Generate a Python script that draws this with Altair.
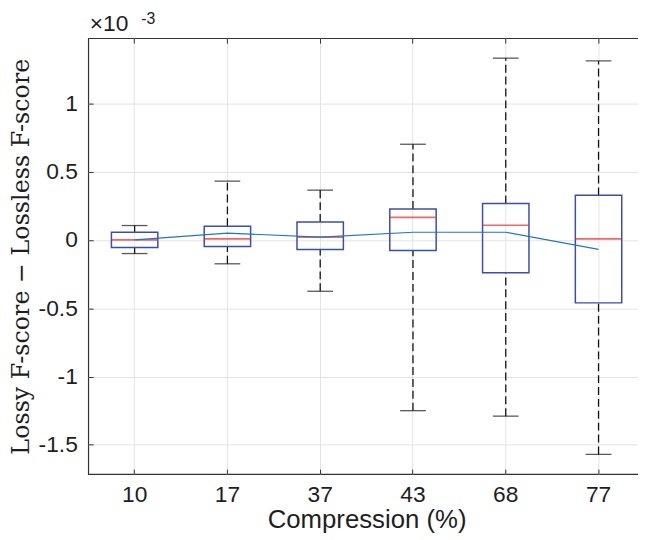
import altair as alt
import pandas as pd

# Values in units of 1e-3
cats = ["10", "17", "37", "43", "68", "77"]
w_lo = [-0.10, -0.175, -0.376, -1.25, -1.29, -1.57]
q1 = [-0.055, -0.048, -0.07, -0.077, -0.24, -0.461]
med = [0.0, 0.007, 0.02, 0.165, 0.107, 0.007]
q3 = [0.056, 0.10, 0.131, 0.226, 0.267, 0.326]
w_hi = [0.105, 0.43, 0.364, 0.70, 1.33, 1.31]
mean = [0.0, 0.05, 0.02, 0.056, 0.056, -0.07]
y_ticks = [-1.5, -1.0, -0.5, 0.0, 0.5, 1.0]

df = pd.DataFrame({"cat": cats, "lo": w_lo, "q1": q1, "med": med,
                   "q3": q3, "hi": w_hi, "mean": mean})

FRAME = "#333333"
TXT = "#1e1e1e"
GRID = "#e3e3e3"

xscale = alt.Scale(type="band", paddingInner=0.5, paddingOuter=0.25)
yscale = alt.Scale(domain=[-1.714, 1.476], nice=False, zero=False)

label_expr = "datum.value < 0 ? '-' + format(-datum.value, '') : format(datum.value, '')"

x_axis = alt.Axis(title="Compression (%)", orient="bottom", offset=-5, tickSize=5,
                  tickColor=FRAME, tickWidth=1, domain=False, grid=True,
                  gridColor=GRID, gridWidth=1, bandPosition=0.5,
                  labelPadding=10, labelAngle=0, titlePadding=0,
                  labelFont="Liberation Sans", labelFontSize=23, labelColor=TXT,
                  titleFont="Liberation Sans", titleFontSize=26,
                  titleFontWeight="normal", titleColor=TXT)
y_axis = alt.Axis(title="Lossy F-score \u2212 Lossless F-score", orient="left",
                  offset=-5, tickSize=5, tickColor=FRAME, tickWidth=1,
                  domain=False, grid=True, gridColor=GRID, gridWidth=1,
                  values=y_ticks, labelExpr=label_expr, labelPadding=11,
                  titlePadding=5,
                  labelFont="Liberation Sans", labelFontSize=23, labelColor=TXT,
                  titleFont="DejaVu Serif", titleFontSize=24,
                  titleFontWeight="normal", titleColor=TXT)
x_top = alt.Axis(title="\u00d710", orient="top", offset=-5, tickSize=5,
                 tickColor=FRAME, tickWidth=1, domain=False, grid=False,
                 labels=False, bandPosition=0.5,
                 titleX=1, titleY=-12.5, titleAlign="left",
                 titleBaseline="alphabetic", titleAngle=0,
                 titleFont="Liberation Sans", titleFontSize=23,
                 titleFontWeight="normal", titleColor=TXT)
y_right = alt.Axis(title="-3", orient="right", offset=-5, tickSize=5,
                   tickColor=FRAME, tickWidth=1, domain=False, grid=False,
                   labels=False, values=y_ticks,
                   titleX=-504, titleY=-15, titleAlign="left",
                   titleBaseline="alphabetic", titleAngle=0,
                   titleFont="Liberation Sans", titleFontSize=16,
                   titleFontWeight="normal", titleColor=TXT)

X = alt.X("cat:O", sort=cats, scale=xscale, axis=x_axis)
base = alt.Chart(df)

whisk_hi = base.mark_rule(color="#111111", strokeWidth=1.3, strokeDash=[8, 4]).encode(
    x=X, y=alt.Y("q3:Q", scale=yscale, axis=y_axis), y2="hi:Q")
whisk_lo = base.mark_rule(color="#111111", strokeWidth=1.3, strokeDash=[8, 4]).encode(
    x=X, y=alt.Y("lo:Q", scale=yscale, axis=y_axis), y2="q1:Q")
cap_hi = base.mark_tick(color="#111111", size=26, thickness=1.3).encode(
    x=X, y=alt.Y("hi:Q", scale=yscale, axis=y_axis))
cap_lo = base.mark_tick(color="#111111", size=26, thickness=1.3).encode(
    x=X, y=alt.Y("lo:Q", scale=yscale, axis=y_axis))
box = base.mark_bar(fill="white", fillOpacity=0, stroke="#3a4db3", strokeWidth=1.5).encode(
    x=X, y=alt.Y("q1:Q", scale=yscale, axis=y_axis), y2="q3:Q")
median = base.mark_tick(color="#e8262b", size=46, thickness=1.7).encode(
    x=X, y=alt.Y("med:Q", scale=yscale, axis=y_axis))
mean_line = base.mark_line(color="#1f77c4", strokeWidth=1.2).encode(
    x=X, y=alt.Y("mean:Q", scale=yscale, axis=y_axis))

inner = alt.layer(whisk_hi, whisk_lo, cap_hi, cap_lo, box, median, mean_line)

overlay = base.mark_point(opacity=0).encode(
    x=alt.X("cat:O", sort=cats, scale=xscale, axis=x_top),
    y=alt.Y("hi:Q", scale=yscale, axis=y_right))

chart = alt.layer(inner, overlay).resolve_axis(
    x="independent", y="independent"
).properties(
    width=636, height=527,
    autosize=alt.AutoSizeParams(type="fit", contains="padding"),
    padding={"left": 1, "top": 0, "right": -8, "bottom": 0},
).configure_view(stroke=FRAME, strokeWidth=1.2)

chart.save("out.html", embed_options={"renderer": "svg", "actions": False})
